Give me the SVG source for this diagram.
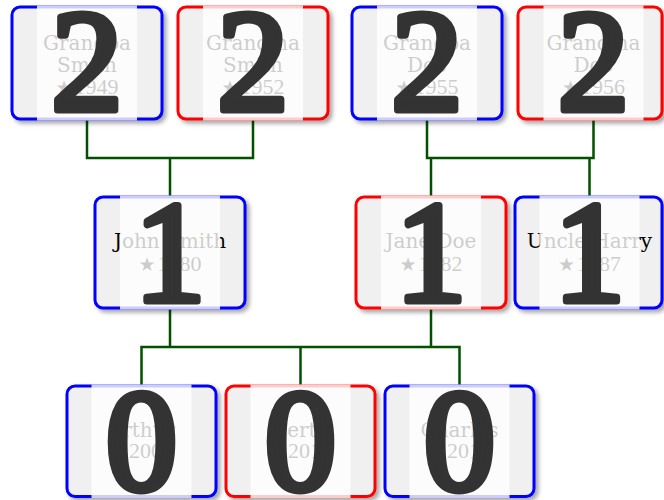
<svg xmlns="http://www.w3.org/2000/svg" width="664" height="500" viewBox="0 0 664 500">
<defs>
<filter id="sh" x="-10%" y="-10%" width="130%" height="130%">
<feDropShadow dx="3" dy="3" stdDeviation="2" flood-color="#000" flood-opacity="0.35"/>
</filter>
<style>
.box{fill:#f0f0f0;stroke-width:3;filter:url(#sh)}
.m{stroke:#0000ff}
.f{stroke:#ff0000}
.band{fill:#ffffff;fill-opacity:0.8}
.nm{font-family:"DejaVu Serif",serif;font-size:20px;fill:#000;text-anchor:middle}
.yr{font-family:"Liberation Serif",serif;font-size:22px;fill:#000;text-anchor:middle}
.st{font-family:"DejaVu Sans",sans-serif;font-size:19px}
.dg{font-family:"Liberation Serif",serif;font-size:143px;fill:#333333;stroke:#333333;stroke-width:7;stroke-linejoin:round;text-anchor:middle}
.con{fill:none;stroke:#005000;stroke-width:2.5}
</style>
</defs>
<g id="connectors" class="con">
<path d="M87,119V158H253V119M170,158V197"/>
<path d="M427,119V158H593.5V119M431,158V197M589.5,158V197"/>
<path d="M170,308V347M431,308V347M141.5,386V347H459.5V386M300.5,347V386"/>
</g>
<g id="grandpa-smith">
<rect class="box m" x="12" y="7" width="150" height="112" rx="8"/>
<text class="nm" x="87" y="50">Grandpa</text>
<text class="nm" x="87" y="72">Smith</text>
<text class="yr" x="87" y="94"><tspan class="st">★</tspan><tspan dx="2">1949</tspan></text>
<rect class="band" x="37" y="5.5" width="100" height="115"/>
<text class="dg" x="87" y="109.5">2</text>
</g>
<g id="grandma-smith">
<rect class="box f" x="178" y="7" width="150" height="112" rx="8"/>
<text class="nm" x="253" y="50">Grandma</text>
<text class="nm" x="253" y="72">Smith</text>
<text class="yr" x="253" y="94"><tspan class="st">★</tspan><tspan dx="2">1952</tspan></text>
<rect class="band" x="203" y="5.5" width="100" height="115"/>
<text class="dg" x="253" y="109.5">2</text>
</g>
<g id="grandpa-doe">
<rect class="box m" x="352" y="7" width="150" height="112" rx="8"/>
<text class="nm" x="427" y="50">Grandpa</text>
<text class="nm" x="427" y="72">Doe</text>
<text class="yr" x="427" y="94"><tspan class="st">★</tspan><tspan dx="2">1955</tspan></text>
<rect class="band" x="377" y="5.5" width="100" height="115"/>
<text class="dg" x="427" y="109.5">2</text>
</g>
<g id="grandma-doe">
<rect class="box f" x="518" y="7" width="144" height="112" rx="8"/>
<text class="nm" x="593.5" y="50">Grandma</text>
<text class="nm" x="593.5" y="72">Doe</text>
<text class="yr" x="593.5" y="94"><tspan class="st">★</tspan><tspan dx="2">1956</tspan></text>
<rect class="band" x="543.5" y="5.5" width="100" height="115"/>
<text class="dg" x="593.5" y="109.5">2</text>
</g>
<g id="john-smith">
<rect class="box m" x="95" y="197" width="150" height="111" rx="8"/>
<text class="nm" x="170" y="248">John Smith</text>
<text class="yr" x="170" y="270.5"><tspan class="st">★</tspan><tspan dx="2">1980</tspan></text>
<rect class="band" x="120" y="195.5" width="100" height="114"/>
<text class="dg" x="170" y="300.5">1</text>
</g>
<g id="jane-doe">
<rect class="box f" x="356" y="197" width="150" height="111" rx="8"/>
<text class="nm" x="431" y="248">Jane Doe</text>
<text class="yr" x="431" y="270.5"><tspan class="st">★</tspan><tspan dx="2">1982</tspan></text>
<rect class="band" x="381" y="195.5" width="100" height="114"/>
<text class="dg" x="431" y="300.5">1</text>
</g>
<g id="uncle-harry">
<rect class="box m" x="515" y="197" width="147" height="111" rx="8"/>
<text class="nm" x="589.5" y="248">Uncle Harry</text>
<text class="yr" x="589.5" y="270.5"><tspan class="st">★</tspan><tspan dx="2">1987</tspan></text>
<rect class="band" x="539.5" y="195.5" width="100" height="114"/>
<text class="dg" x="589.5" y="300.5">1</text>
</g>
<g id="arthur">
<rect class="box m" x="67" y="386" width="149" height="110.5" rx="8"/>
<text class="nm" x="141.5" y="436.5">Arthur</text>
<text class="yr" x="141.5" y="458"><tspan class="st">★</tspan><tspan dx="2">2008</tspan></text>
<rect class="band" x="91.5" y="384.5" width="100" height="113.5"/>
<text class="dg" x="141.5" y="489.5">0</text>
</g>
<g id="berta">
<rect class="box f" x="226" y="386" width="149" height="110.5" rx="8"/>
<text class="nm" x="300.5" y="436.5">Berta</text>
<text class="yr" x="300.5" y="458"><tspan class="st">★</tspan><tspan dx="2">2010</tspan></text>
<rect class="band" x="250.5" y="384.5" width="100" height="113.5"/>
<text class="dg" x="300.5" y="489.5">0</text>
</g>
<g id="charles">
<rect class="box m" x="385" y="386" width="149" height="110.5" rx="8"/>
<text class="nm" x="459.5" y="436.5">Charles</text>
<text class="yr" x="459.5" y="458"><tspan class="st">★</tspan><tspan dx="2">2014</tspan></text>
<rect class="band" x="409.5" y="384.5" width="100" height="113.5"/>
<text class="dg" x="459.5" y="489.5">0</text>
</g>
</svg>
